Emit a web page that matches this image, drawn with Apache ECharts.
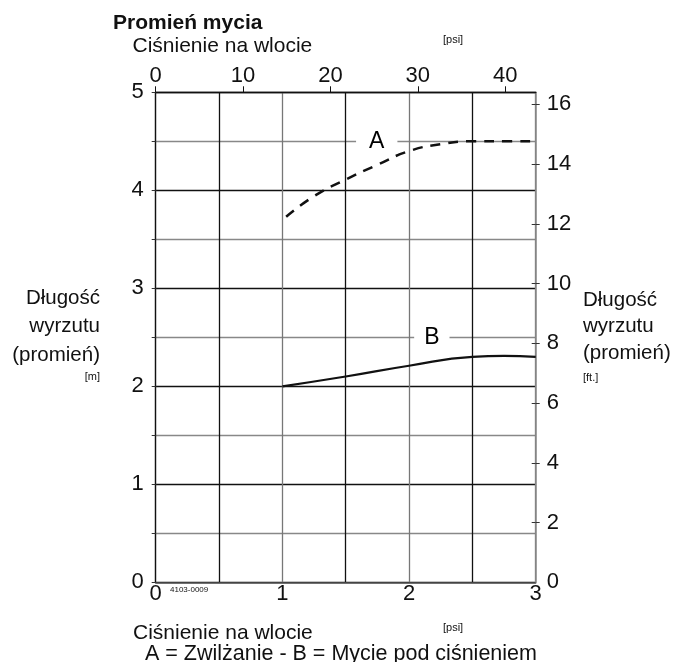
<!DOCTYPE html>
<html>
<head>
<meta charset="utf-8">
<script src="https://cdn.jsdelivr.net/npm/echarts@6/dist/echarts.min.js"></script>
<style>
  html, body { margin: 0; padding: 0; background: #fff; }
  #chart { width: 677px; height: 662px; }
</style>
</head>
<body>
<div id="chart"></div>
<script>
// pressure in bar (bottom axis), reach in m (left axis)
const pressureA = [1.03, 1.25, 1.5, 1.75, 2.0, 2.25, 2.5, 2.75, 3.0];
const reachA = [3.73, 3.94, 4.11, 4.26, 4.4, 4.47, 4.5, 4.5, 4.5];
const pressureB = [1.0, 1.5, 2.0, 2.5, 2.75, 3.0];
const reachB = [2.0, 2.1, 2.21, 2.3, 2.31, 2.3];

const barTicks = [0, 1, 2, 3];
const meterTicks = [0, 1, 2, 3, 4, 5];
const psiTicks = [0, 10, 20, 30, 40];
const ftTicks = [2, 4, 6, 8, 10, 12, 14, 16];
const ftLabels = [0, 2, 4, 6, 8, 10, 12, 14, 16];

const labelA = [1.745, 4.5];
const labelB = [2.18, 2.5];

const FONT = '"Liberation Sans", Arial, sans-serif';

var myChart = echarts.init(document.getElementById("chart"));

function txt(text, font, pos, align) {
  return Object.assign(
    { type: "text", style: { text: text, font: font + " " + FONT, fill: "#111", align: align || "left" } },
    pos
  );
}

let option = {
  animation: false,
  backgroundColor: "#fff",
  textStyle: { fontFamily: FONT, color: "#111" },
  grid: { left: 155.7, right: 141.3, top: 92.3, bottom: 79.7 },
  xAxis: [
    {
      type: "value",
      position: "bottom",
      min: 0,
      max: 3,
      interval: 0.5,
      axisLine: { onZero: false, lineStyle: { color: "#555", width: 1.5 } },
      axisTick: { show: false },
      axisLabel: {
        customValues: barTicks,
        fontSize: 22,
        color: "#111",
        margin: 1,
        fontFamily: FONT,
      },
      splitLine: {
        show: true,
        lineStyle: { color: ["#777", "#111"], width: 1.3 },
      },
    },
    {
      type: "value",
      position: "top",
      min: 0,
      max: 43.5,
      axisLine: { onZero: false, lineStyle: { color: "#111", width: 1.3 } },
      axisTick: {
        customValues: psiTicks,
        inside: false,
        length: 6,
        lineStyle: { color: "#111" },
      },
      axisLabel: {
        customValues: psiTicks,
        fontSize: 22,
        color: "#111",
        margin: 5,
        fontFamily: FONT,
      },
      splitLine: { show: false },
    },
  ],
  yAxis: [
    {
      type: "value",
      position: "left",
      min: 0,
      max: 5,
      interval: 0.5,
      axisLine: { show: true, onZero: false, lineStyle: { color: "#111", width: 1.3 } },
      axisTick: {
        show: true,
        length: 4,
        lineStyle: { color: "#333" },
      },
      axisLabel: {
        customValues: meterTicks,
        fontSize: 22,
        color: "#111",
        margin: 12,
        fontFamily: FONT,
      },
      splitLine: {
        show: true,
        lineStyle: { color: ["#111", "#888"], width: 1.3 },
      },
    },
    {
      type: "value",
      position: "right",
      min: 0,
      max: 16.404,
      axisLine: { show: true, onZero: false, lineStyle: { color: "#888", width: 1.5 } },
      axisTick: {
        customValues: ftTicks,
        inside: false,
        length: 4,
        lineStyle: { color: "#333" },
      },
      axisLabel: {
        customValues: ftLabels,
        fontSize: 22,
        color: "#111",
        margin: 11,
        fontFamily: FONT,
      },
      splitLine: { show: false },
    },
    {
      // second right axis only to make the ft ticks cross the line
      type: "value",
      position: "right",
      min: 0,
      max: 16.404,
      axisLine: { show: false, onZero: false },
      axisTick: {
        customValues: ftTicks,
        inside: true,
        length: 4,
        lineStyle: { color: "#333" },
      },
      axisLabel: { show: false },
      splitLine: { show: false },
    },
  ],
  series: [
    {
      name: "A",
      type: "line",
      smooth: true,
      symbol: "none",
      xAxisIndex: 0,
      yAxisIndex: 0,
      data: pressureA.map((p, i) => [p, reachA[i]]),
      lineStyle: { color: "#111", width: 2.5, type: [10, 8] },
      z: 3,
    },
    {
      name: "B",
      type: "line",
      smooth: true,
      symbol: "none",
      xAxisIndex: 0,
      yAxisIndex: 0,
      data: pressureB.map((p, i) => [p, reachB[i]]),
      lineStyle: { color: "#111", width: 2.2 },
      z: 3,
    },
    {
      name: "labels",
      type: "scatter",
      xAxisIndex: 0,
      yAxisIndex: 0,
      symbolSize: 0,
      itemStyle: { opacity: 1 },
      data: [
        { value: labelA, name: "A", label: { padding: [2, 13, 0, 13] } },
        { value: labelB, name: "B", label: { padding: [2, 10, 0, 10] } },
      ],
      label: {
        show: true,
        position: "inside",
        formatter: (p) => p.name,
        fontSize: 23,
        color: "#000",
        opacity: 1,
        fontFamily: FONT,
        backgroundColor: "#fff",
      },
      z: 4,
    },
  ],
  graphic: [
    txt("Promień mycia", "bold 21px", { left: 113, top: 12.4 }),
    txt("Ciśnienie na wlocie", "21px", { left: 132.5, top: 35.7 }),
    txt("[psi]", "11px", { left: 443, top: 34 }),

    txt("Długość", "20.5px", { right: 577, top: 288 }, "right"),
    txt("wyrzutu", "20.5px", { right: 577, top: 316 }, "right"),
    txt("(promień)", "20.5px", { right: 577, top: 344.5 }, "right"),
    txt("[m]", "11px", { right: 577, top: 371 }, "right"),

    txt("Długość", "20.5px", { left: 583, top: 289.5 }),
    txt("wyrzutu", "20.5px", { left: 583, top: 316 }),
    txt("(promień)", "20.5px", { left: 583, top: 343 }),
    txt("[ft.]", "11px", { left: 583, top: 372.5 }),

    txt("4103-0009", "8px", { left: 170, top: 586 }),
    txt("Ciśnienie na wlocie", "21px", { left: 133, top: 622.4 }),
    txt("[psi]", "11px", { left: 443, top: 622 }),
    txt("A = Zwilżanie - B = Mycie pod ciśnieniem", "21.5px", { left: 145, top: 642.6 }),
  ],
};
myChart.setOption(option);
</script>
</body>
</html>
